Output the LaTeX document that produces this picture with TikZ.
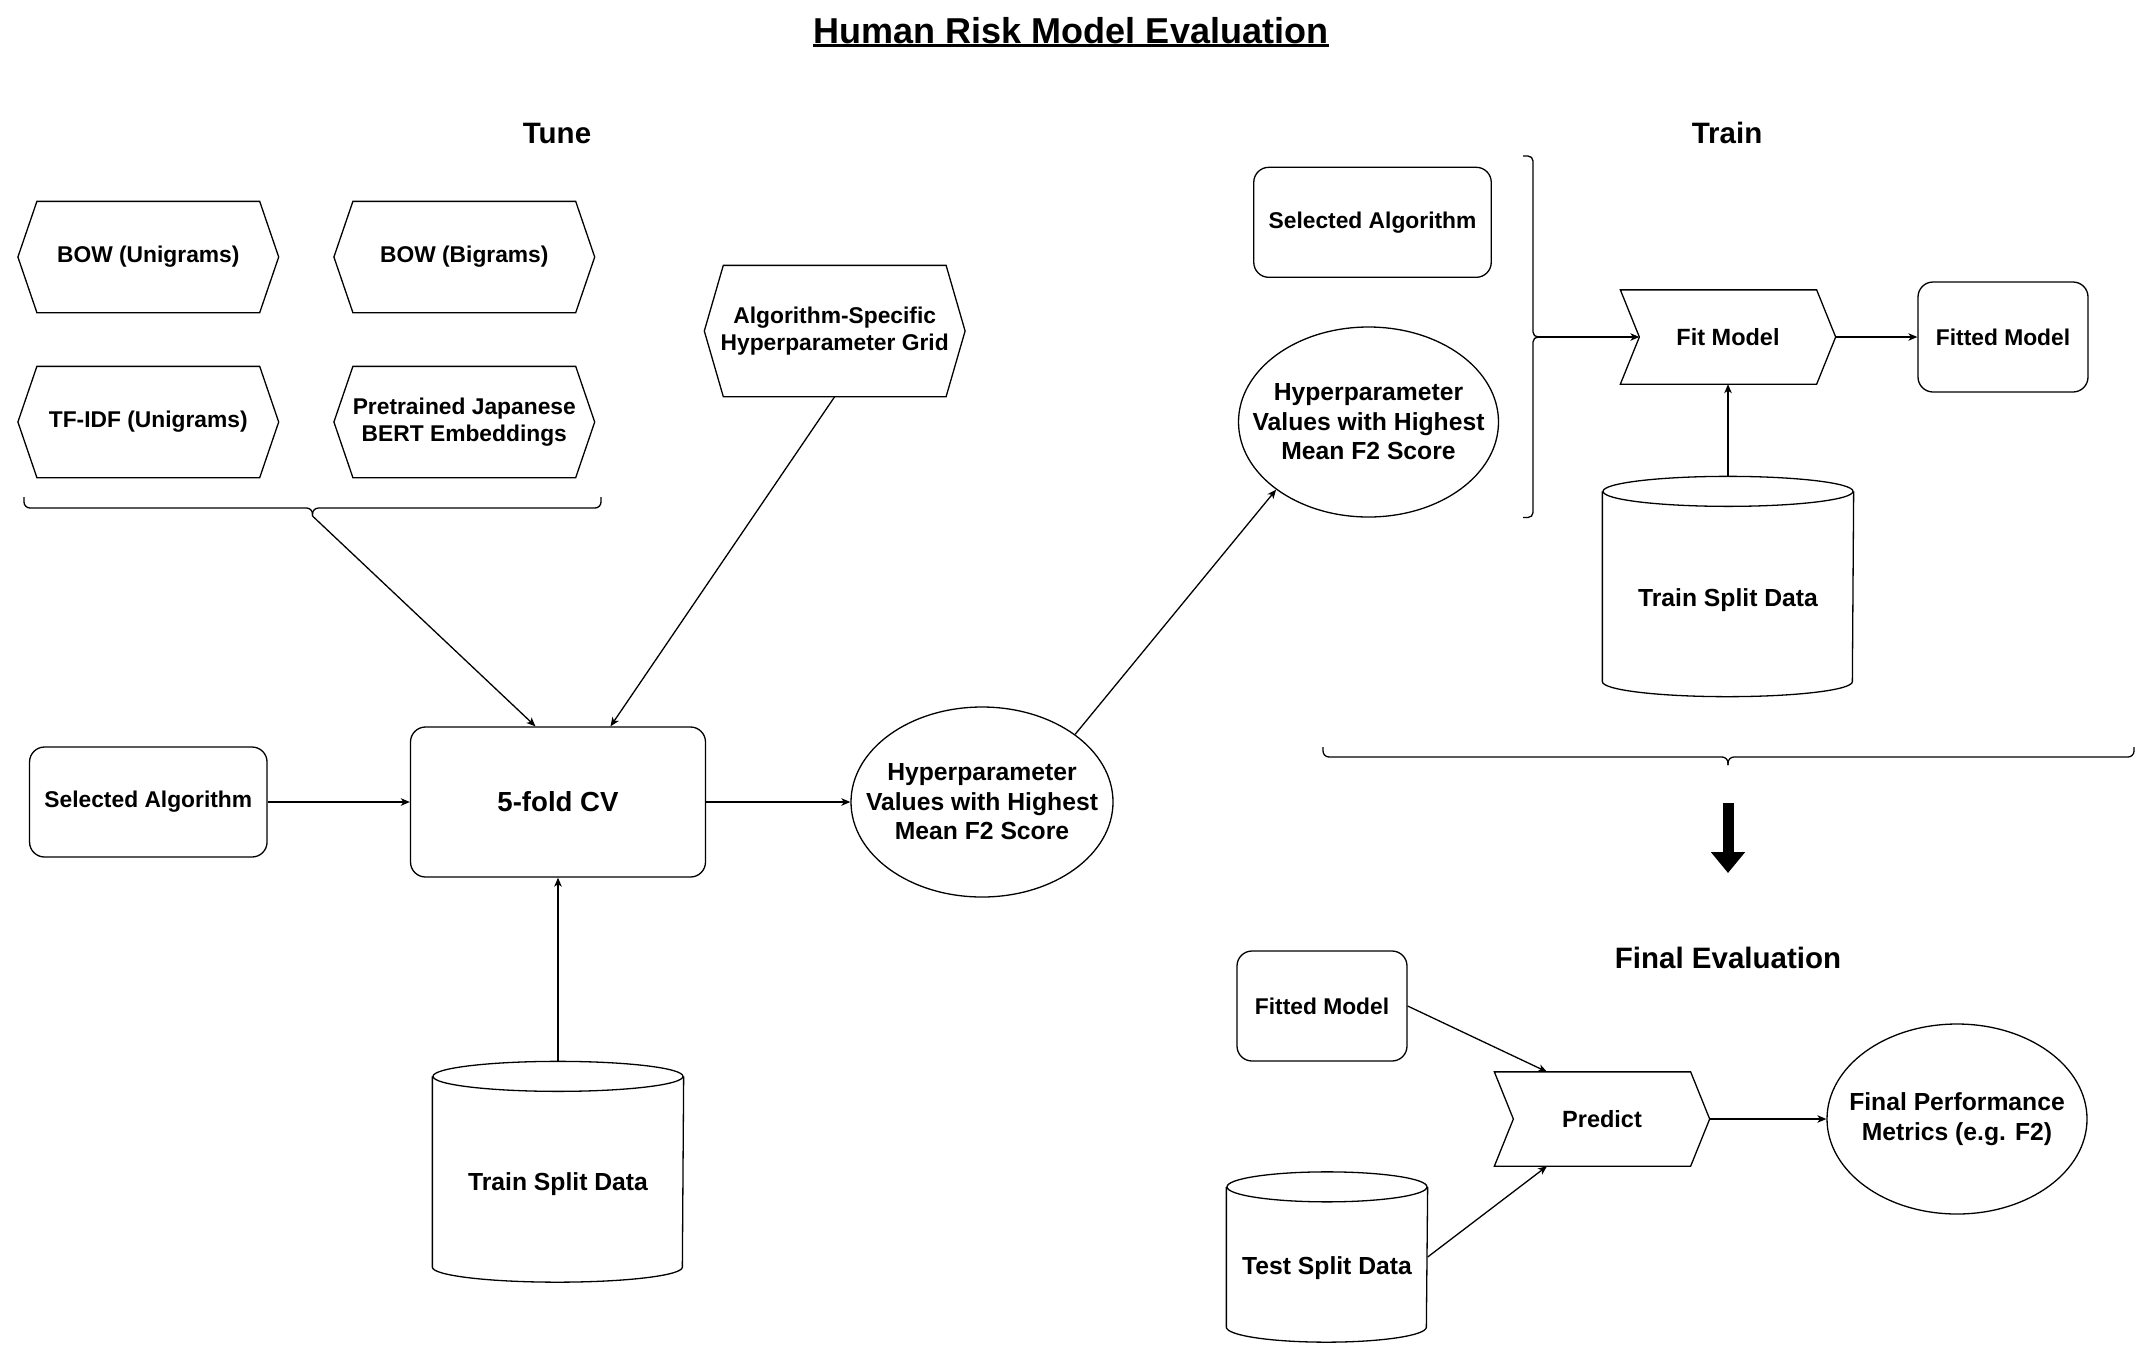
\documentclass[tikz,border=0pt]{standalone}
\usepackage{fontspec}
\setmainfont{Liberation Sans}
\usetikzlibrary{arrows.meta,shapes.geometric,calc}
\tikzset{
  every node/.style={inner sep=0pt, align=center},
  lbl/.style={font=\fontsize{22.8}{27.4}\selectfont\bfseries},
  lblb/.style={font=\fontsize{24.7}{29.6}\selectfont\bfseries},
  head/.style={font=\fontsize{29.5}{35}\selectfont\bfseries},
  rbox/.style={draw, rounded corners=15pt, minimum width=237.5pt, minimum height=110pt, lbl},
  hexn/.style={minimum width=259.5pt, minimum height=110pt, lbl},
  stepn/.style={minimum width=214pt, minimum height=93pt, font=\fontsize{23.5}{28}\selectfont\bfseries},
  ell/.style={draw, ellipse, minimum width=262pt, minimum height=190pt},
  cyln/.style={minimum width=250pt},
  arr/.style={-{Stealth[length=9pt,width=7.5pt,inset=2.5pt]}},
  bigarr/.style={line width=11pt, -{Triangle[length=21pt,width=33pt]}},
}
\begin{document}
\begin{tikzpicture}[x=1pt,y=-1pt,line width=1.3pt]
\useasboundingbox (0,0) rectangle (2149,1345);

% titles
\node[font=\fontsize{36}{43}\selectfont\bfseries, anchor=base] (ttl) at (1071,43) {Human Risk Model Evaluation};
\draw[line width=2.4pt] ([yshift=-2.3pt]ttl.base west) -- ([yshift=-2.3pt]ttl.base east);
\node[head] (tune) at (557,133) {Tune};
\node[head] (train) at (1727,133) {Train};
\node[head] (fe) at (1728,958) {Final Evaluation};

% hexagons
\node[hexn] (h1) at (148.3,257) {BOW (Unigrams)};
\node[hexn] (h2) at (464.3,257) {BOW (Bigrams)};
\node[hexn] (h3) at (148.3,422) {TF-IDF (Unigrams)};
\node[hexn] (h4) at (464.3,422) {Pretrained Japanese\\BERT Embeddings};
\node[hexn, minimum height=130pt] (h5) at (834.7,331) {Algorithm-Specific\\Hyperparameter Grid};
\foreach \n in {h1,h2,h3,h4,h5}{
  \draw (\n.west) -- ([xshift=19pt]\n.north west) -- ([xshift=-19pt]\n.north east) -- (\n.east)
        -- ([xshift=-19pt]\n.south east) -- ([xshift=19pt]\n.south west) -- cycle;
}

% brace under hexagons
\coordinate (b1l) at (24,497);
\coordinate (b1r) at (601,497);
\coordinate (b1t) at (312.5,516);
\draw[rounded corners=6pt] (b1l) |- (312.5,508) -- (b1t);
\draw[rounded corners=6pt] (b1r) |- (312.5,508) -- (b1t);

% tune row
\node[rbox] (sa1) at (148.3,802) {Selected Algorithm};
\node[draw, rounded corners=15pt, minimum width=295pt, minimum height=150pt,
      font=\fontsize{27.6}{33}\selectfont\bfseries] (cv) at (558,802) {5-fold CV};
\node[ell] (hp1) at (982,802) {};
\node[lblb] (hp1t) at (hp1.center) {Hyperparameter\\Values with Highest\\Mean F2 Score};
\node[cyln, minimum height=219.5pt] (cyl1) at (558,1171.75) {};
\node[lblb] (cyl1t) at (558,1184) {Train Split Data};

% train section
\node[rbox] (sa2) at (1372.5,222.3) {Selected Algorithm};
\node[ell, minimum width=260pt] (hp2) at (1368.5,422) {};
\node[lblb] (hp2t) at (hp2.center) {Hyperparameter\\Values with Highest\\Mean F2 Score};
\node[stepn] (fit) at (1728,337) {Fit Model};
\node[rbox, minimum width=170pt] (fm1) at (2003,337) {Fitted Model};
\node[cyln, minimum height=219pt] (cyl2) at (1728,586.5) {};
\node[lblb] (cyl2t) at (1728,600) {Train Split Data};

% vertical brace
\coordinate (b2t) at (1538,337);
\draw[rounded corners=5pt] (1523,156) -| (1533,337) -- (b2t);
\draw[rounded corners=5pt] (1523,517.5) -| (1533,337) -- (b2t);

% bottom brace
\coordinate (b3l) at (1323,747);
\coordinate (b3r) at (2134,747);
\coordinate (b3t) at (1728,765);
\draw[rounded corners=6pt] (b3l) |- (1728,757) -- (b3t);
\draw[rounded corners=6pt] (b3r) |- (1728,757) -- (b3t);

% big arrow
\coordinate (ba1) at (1728,803);
\coordinate (ba2) at (1728,873);
\draw[bigarr] (ba1) -- (ba2);

% final evaluation
\node[rbox, minimum width=170pt] (fm2) at (1322,1006) {Fitted Model};
\node[stepn] (pred) at (1602,1119) {Predict};
\node[ell, minimum width=260pt] (fpm) at (1957,1119) {};
\node[lblb] (fpmt) at (fpm.center) {Final Performance\\Metrics (e.g. F2)};
\node[cyln, minimum width=200pt, minimum height=169pt] (cyl3) at (1327,1257) {};
\node[lblb] (cyl3t) at (1327,1268) {Test Split Data};

% step shapes
\foreach \n in {fit,pred}{
  \draw (\n.north west) -- ([xshift=-19pt]\n.north east) -- (\n.east) -- ([xshift=-19pt]\n.south east)
        -- (\n.south west) -- ([xshift=19pt]\n.west) -- cycle;
}
% cylinders
\foreach \n/\r in {cyl1/125,cyl2/125,cyl3/100}{
  \draw ([yshift=-15pt]\n.north west) -- ([yshift=15pt]\n.south west)
        arc[start angle=180,end angle=360,x radius=\r pt,y radius=15pt]
        -- ([yshift=-15pt]\n.north east);
  \draw ([yshift=-15pt]\n.north) ellipse[x radius=\r pt,y radius=15pt];
}

% connectors
\draw[arr] (b1t) -- ($(cv.north)+(-22.5,0)$);
\draw[arr] (h5.south) -- ($(cv.north)+(52.5,0)$);
\draw[arr] (sa1.east) -- (cv.west);
\draw[arr] (cv.east) -- (hp1.west);
\draw[arr] (cyl1.north) -- (cv.south);
\draw[arr] (hp1.north east) -- (hp2.south west);
\draw[arr] (b2t) -- ($(fit.west)+(19,0)$);
\draw[arr] (fit.east) -- (fm1.west);
\draw[arr] (cyl2.north) -- (fit.south);
\draw[arr] (fm2.east) -- ($(pred.north)+(-55,0)$);
\draw[arr] (cyl3.east) -- ($(pred.south)+(-55,0)$);
\draw[arr] (pred.east) -- (fpm.west);
\end{tikzpicture}
\end{document}
